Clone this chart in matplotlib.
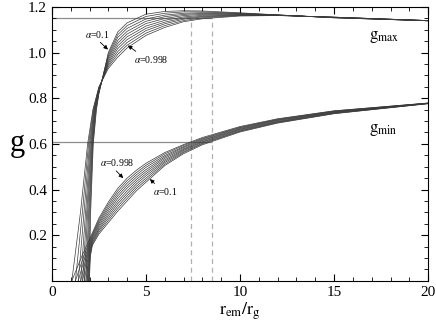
import matplotlib
matplotlib.use("Agg")
import matplotlib.pyplot as plt
from matplotlib.ticker import MultipleLocator, FixedLocator

plt.rcParams['font.family'] = ['Liberation Serif', 'DejaVu Serif']
plt.rcParams['mathtext.fontset'] = 'stix'

# curves are ordered alpha = 0.998 (first) ... 0.1 (last)
r_horizon = [1.06, 1.25, 1.40, 1.53, 1.63, 1.72, 1.81, 1.88, 1.94, 1.99]

# ---- g_max: steep rise read at fixed g levels, then a shared r grid ----
gmax_rise_g = [0.0, 0.3, 0.6, 0.75]
gmax_rise_r = [
    [1.06, 1.52, 1.90, 2.18],
    [1.25, 1.62, 1.95, 2.20],
    [1.40, 1.71, 2.00, 2.23],
    [1.53, 1.79, 2.04, 2.25],
    [1.63, 1.85, 2.08, 2.27],
    [1.72, 1.90, 2.11, 2.29],
    [1.81, 1.95, 2.14, 2.31],
    [1.88, 1.99, 2.16, 2.33],
    [1.94, 2.03, 2.18, 2.35],
    [1.99, 2.06, 2.20, 2.37],
]
gmax_r = [2.5, 3, 3.5, 4, 5, 6, 7, 8, 10, 12, 15, 20]
gmax_vals = [
    [0.850, 0.930, 0.980, 1.020, 1.075, 1.110, 1.135, 1.148, 1.160, 1.162, 1.155, 1.140],
    [0.847, 0.938, 0.992, 1.032, 1.085, 1.118, 1.140, 1.152, 1.162, 1.162, 1.155, 1.140],
    [0.843, 0.946, 1.004, 1.044, 1.096, 1.126, 1.146, 1.156, 1.163, 1.163, 1.155, 1.140],
    [0.840, 0.953, 1.017, 1.057, 1.106, 1.133, 1.151, 1.159, 1.165, 1.163, 1.154, 1.140],
    [0.837, 0.961, 1.029, 1.069, 1.116, 1.141, 1.156, 1.163, 1.166, 1.163, 1.154, 1.140],
    [0.833, 0.969, 1.041, 1.081, 1.127, 1.149, 1.162, 1.167, 1.168, 1.164, 1.154, 1.139],
    [0.830, 0.977, 1.053, 1.093, 1.137, 1.157, 1.167, 1.171, 1.169, 1.164, 1.153, 1.139],
    [0.827, 0.984, 1.066, 1.106, 1.147, 1.164, 1.172, 1.174, 1.171, 1.164, 1.153, 1.139],
    [0.823, 0.992, 1.078, 1.118, 1.158, 1.172, 1.178, 1.178, 1.172, 1.165, 1.152, 1.139],
    [0.820, 1.000, 1.090, 1.130, 1.168, 1.180, 1.183, 1.182, 1.174, 1.165, 1.152, 1.139],
]

# ---- g_min: start near the horizon, then a shared r grid ----
gmin_start_r = [
    [1.06, 1.60, 2.15],
    [1.25, 1.70, 2.15],
    [1.40, 1.78, 2.15],
    [1.53, 1.84, 2.15],
    [1.63, 1.89, 2.15],
    [1.72, 1.94, 2.15],
    [1.81, 1.98, 2.15],
    [1.88, 2.02, 2.15],
    [1.94, 2.04, 2.15],
    [1.99, 2.05, 2.15],
]
gmin_start_g = [
    [0.0, 0.110, 0.210],
    [0.0, 0.110, 0.204],
    [0.0, 0.110, 0.198],
    [0.0, 0.110, 0.192],
    [0.0, 0.110, 0.185],
    [0.0, 0.110, 0.179],
    [0.0, 0.110, 0.173],
    [0.0, 0.115, 0.167],
    [0.0, 0.115, 0.161],
    [0.0, 0.110, 0.155],
]
gmin_r = [2.5, 3, 3.5, 4, 4.5, 5, 6, 7, 8, 10, 12, 15, 20]
gmin_vals = [
    [0.275, 0.345, 0.405, 0.450, 0.485, 0.515, 0.562, 0.597, 0.628, 0.676, 0.710, 0.745, 0.779],
    [0.267, 0.335, 0.394, 0.439, 0.475, 0.506, 0.556, 0.593, 0.624, 0.673, 0.708, 0.744, 0.779],
    [0.259, 0.325, 0.383, 0.428, 0.465, 0.497, 0.549, 0.588, 0.621, 0.671, 0.706, 0.742, 0.778],
    [0.252, 0.315, 0.372, 0.417, 0.455, 0.487, 0.543, 0.584, 0.617, 0.668, 0.704, 0.741, 0.778],
    [0.244, 0.305, 0.361, 0.406, 0.445, 0.478, 0.537, 0.579, 0.614, 0.665, 0.702, 0.739, 0.778],
    [0.236, 0.295, 0.349, 0.394, 0.435, 0.469, 0.530, 0.575, 0.610, 0.663, 0.699, 0.738, 0.777],
    [0.228, 0.285, 0.338, 0.383, 0.425, 0.460, 0.524, 0.571, 0.607, 0.660, 0.697, 0.736, 0.777],
    [0.221, 0.275, 0.327, 0.372, 0.415, 0.450, 0.518, 0.566, 0.603, 0.657, 0.695, 0.735, 0.777],
    [0.213, 0.265, 0.316, 0.361, 0.405, 0.441, 0.511, 0.562, 0.600, 0.655, 0.693, 0.733, 0.776],
    [0.205, 0.255, 0.305, 0.350, 0.395, 0.432, 0.505, 0.557, 0.596, 0.652, 0.691, 0.732, 0.776],
]

# reference levels
gmax_level = 1.15
gmin_level = 0.61
r_marks = [7.4, 8.5]

fig = plt.figure(figsize=(4.36, 3.27), dpi=100)
ax = fig.add_axes([0.119, 0.141, 0.863, 0.838])

ax.hlines([gmax_level, gmin_level], 0, max(r_marks), colors='#8c8c8c', lw=0.9, zorder=1)
ax.vlines(r_marks, 0, gmax_level, colors='#b0b0b0', lw=0.9,
          linestyles=(0, (4, 3)), zorder=1)

for k in range(len(r_horizon)):
    ax.plot(gmax_rise_r[k] + gmax_r, gmax_rise_g + gmax_vals[k],
            color='#3a3a3a', lw=0.5, zorder=2)
    ax.plot(gmin_start_r[k] + gmin_r, gmin_start_g[k] + gmin_vals[k],
            color='#3a3a3a', lw=0.5, zorder=2)

arrow = dict(arrowstyle='-|>', lw=0.6, color='black', mutation_scale=6,
             shrinkA=0, shrinkB=0)
ax.annotate(r'$\alpha$=0.1', xy=(2.98, 1.013), xytext=(2.42, 1.081),
            ha='center', va='center', fontsize=7,
            arrowprops=dict(arrow, relpos=(0.5, 0.0)))
ax.annotate(r'$\alpha$=0.998', xy=(4.04, 1.031), xytext=(5.3, 0.969),
            ha='center', va='center', fontsize=7,
            arrowprops=dict(arrow, relpos=(0.15, 1.0)))
ax.annotate(r'$\alpha$=0.998', xy=(3.79, 0.45), xytext=(3.46, 0.518),
            ha='center', va='center', fontsize=7,
            arrowprops=dict(arrow, relpos=(0.4, 0.0)))
ax.annotate(r'$\alpha$=0.1', xy=(5.21, 0.446), xytext=(6.0, 0.39),
            ha='center', va='center', fontsize=7,
            arrowprops=dict(arrow, relpos=(0.2, 1.0)))

ax.text(17.66, 1.066, r'$\mathrm{g_{max}}$', fontsize=12, ha='center', va='center')
ax.text(17.6, 0.662, r'$\mathrm{g_{min}}$', fontsize=12, ha='center', va='center')

ax.set_xlim(0, 20)
ax.set_ylim(0, 1.2)
ax.xaxis.set_major_locator(MultipleLocator(5))
ax.xaxis.set_minor_locator(MultipleLocator(1))
ax.yaxis.set_major_locator(FixedLocator([0.2, 0.4, 0.6, 0.8, 1.0, 1.2]))
ax.yaxis.set_minor_locator(MultipleLocator(0.05))
ax.yaxis.set_major_formatter(plt.FormatStrFormatter('%.1f'))
ax.tick_params(which='both', direction='in', top=True, right=True, labelsize=11)
ax.tick_params(which='major', length=5, width=0.8)
ax.tick_params(which='minor', length=3, width=0.6)

ax.set_xlabel(r'$\mathrm{r_{em}/r_g}$', fontsize=13, labelpad=1)
ax.set_ylabel('g', fontsize=22, rotation=0, labelpad=8, va='center')

fig.savefig('out.png', dpi=100)
